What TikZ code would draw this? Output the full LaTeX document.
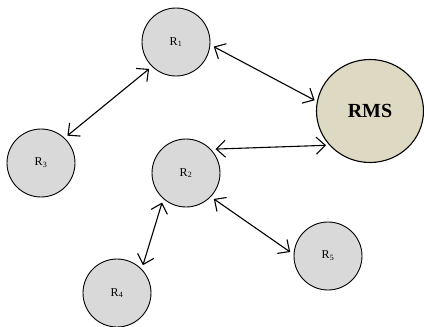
\documentclass[tikz,border=0pt]{standalone}
\usepackage{fontspec}
\setmainfont{Liberation Serif}
\usetikzlibrary{arrows.meta,shapes.geometric}
\definecolor{nodegray}{RGB}{217,217,217}
\definecolor{rmstan}{RGB}{221,217,195}
\tikzset{
  rnode/.style={circle,draw=black,line width=0.9pt,fill=nodegray,minimum size=68pt,inner sep=0pt,outer sep=4pt,font=\fontsize{12}{14}\selectfont},
  rmsnode/.style={ellipse,draw=black,line width=1.1pt,fill=rmstan,minimum width=107pt,minimum height=103pt,inner sep=0pt,outer sep=3pt,font=\fontsize{20}{24}\selectfont\bfseries},
  link/.style={line width=1.1pt,{Straight Barb[length=9pt,width=17pt,line width=1.1pt]}-{Straight Barb[length=9pt,width=17pt,line width=1.1pt]}}
}
\begin{document}
\begin{tikzpicture}[x=1pt,y=-1pt]
\useasboundingbox (0,0) rectangle (424,327);
\node[rnode] (R1) at (176,42) {R\textsubscript{1}};
\node[rmsnode] (RMS) at (370,111) {RMS};
\node[rnode] (R3) at (41,163) {R\textsubscript{3}};
\node[rnode] (R2) at (186,173) {R\textsubscript{2}};
\node[rnode] (R5) at (328,256) {R\textsubscript{5}};
\node[rnode] (R4) at (117,293) {R\textsubscript{4}};
\draw[link] (R1.-7) -- (RMS.169);
\draw[link] (R1.225) -- (R3.46);
\draw[link] (R2.39) -- (RMS.218);
\draw[link] (R2.231) -- (R4.47);
\draw[link] (R2.-43) -- (R5.174);
\end{tikzpicture}
\end{document}
